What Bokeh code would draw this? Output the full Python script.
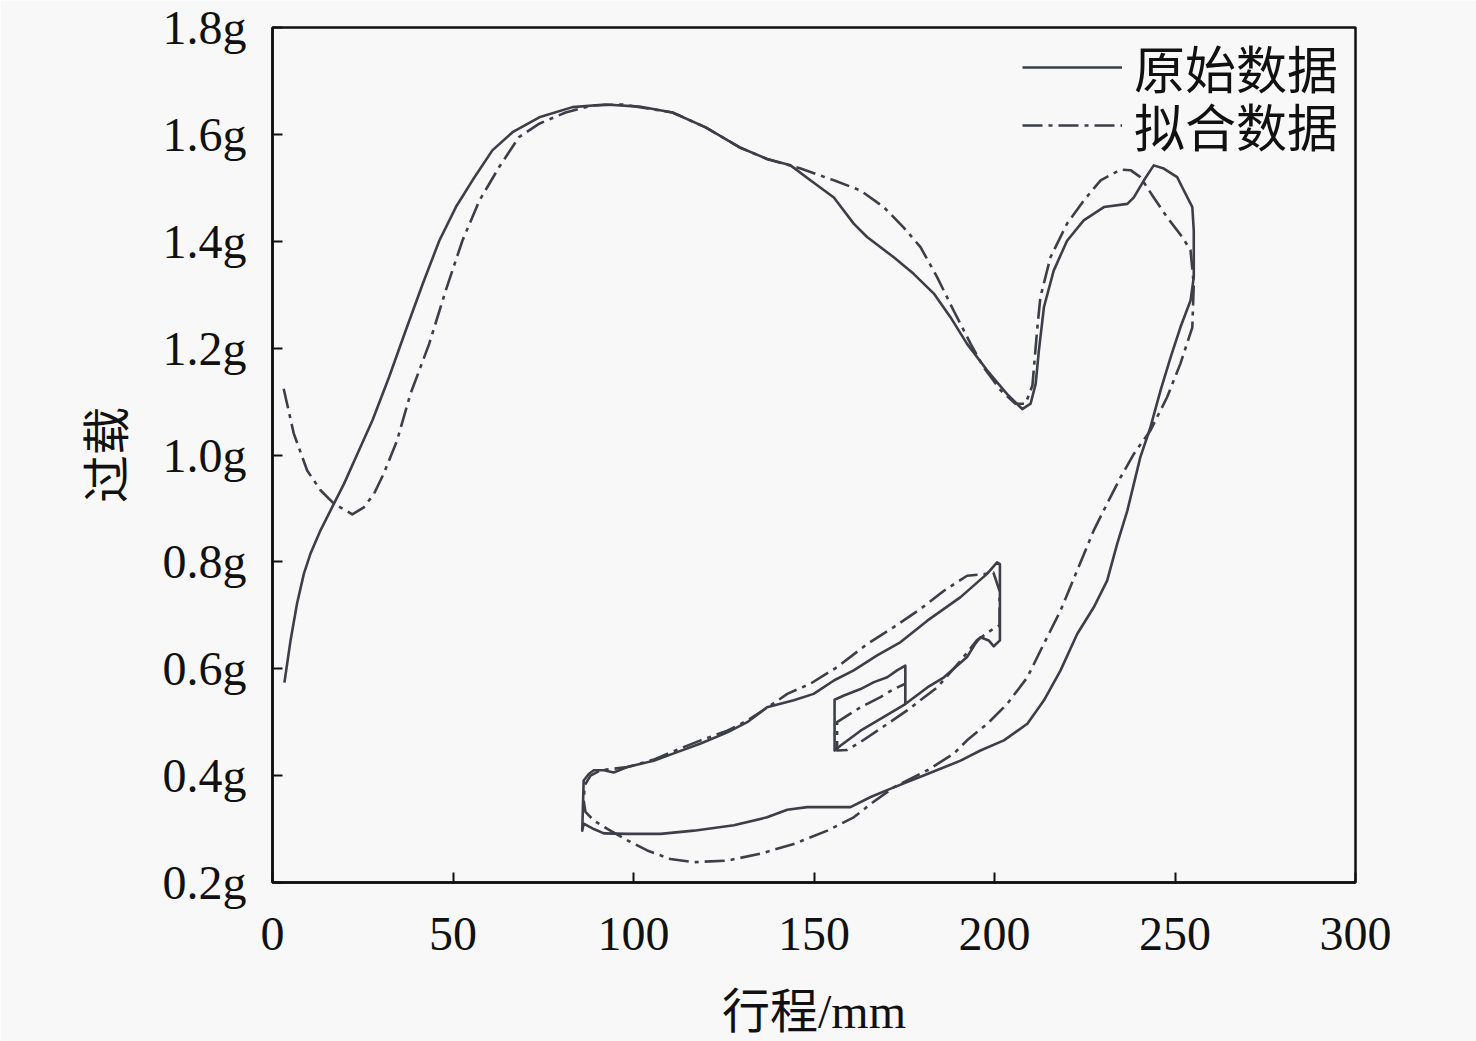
from bokeh.plotting import figure
from bokeh.models import Range1d, FixedTicker, Legend, LegendItem
from bokeh.embed import file_html
from bokeh.resources import INLINE

# ---- data (stroke in mm, overload in g) ----
orig_x = [3.3, 5.0, 6.8, 8.7, 10.5, 13.3, 16.5, 19.8, 23.5, 27.7, 32.3, 36.9,
          41.6, 46.2, 50.8, 55.4, 60.9, 66.5, 73.9, 83.1, 92.3, 101.6,
          110.8, 120.0, 129.3, 137.0, 143.5, 149.0, 155.5, 161.0, 164.7, 172.1,
          177.6, 183.2, 187.8, 192.4, 198.0, 203.5, 207.7, 210.0, 211.4, 212.3,
          213.7, 216.4, 220.1, 224.7, 230.3, 236.8, 238.6, 241.4, 244.1, 246.9,
          250.6, 252.0, 254.8, 255.2, 255.2, 254.3, 251.5, 248.8, 246.0, 243.2,
          240.4, 238.6, 236.8, 234.0, 231.2, 227.5, 222.9, 218.3, 213.7, 209.1,
          202.6, 196.1, 190.6, 181.4, 172.1, 165.7, 160.1, 153.7, 148.1, 142.6,
          137.0, 127.8, 116.7, 107.5, 98.3, 91.8, 89.0, 86.2, 85.8, 86.2,
          87.6, 89.0, 91.8, 94.5, 98.3, 105.6, 112.1, 118.6, 126.0, 131.5,
          137.0, 144.4, 149.9, 155.5, 161.0, 167.5, 174.0, 181.4, 190.6, 198.0,
          200.7, 201.5, 201.5, 199.8, 198.4, 196.1, 194.7, 192.4, 186.0, 181.4,
          175.3, 168.4, 162.9, 157.3, 155.7, 155.7, 158.3, 162.9, 166.6, 170.3,
          173.0, 175.3, 175.3]
orig_y = [0.574, 0.653, 0.722, 0.778, 0.815, 0.859, 0.902, 0.946, 1.002, 1.065, 1.146, 1.233,
          1.320, 1.401, 1.464, 1.514, 1.570, 1.604, 1.632, 1.651, 1.656, 1.652,
          1.641, 1.613, 1.576, 1.554, 1.542, 1.514, 1.482, 1.433, 1.408, 1.370,
          1.339, 1.302, 1.258, 1.208, 1.158, 1.114, 1.086, 1.096, 1.133, 1.196,
          1.277, 1.345, 1.401, 1.439, 1.464, 1.470, 1.482, 1.514, 1.542, 1.536,
          1.520, 1.501, 1.464, 1.420, 1.333, 1.289, 1.239, 1.183, 1.121, 1.052,
          0.996, 0.946, 0.896, 0.834, 0.765, 0.715, 0.665, 0.597, 0.541, 0.497,
          0.466, 0.447, 0.428, 0.403, 0.378, 0.360, 0.341, 0.341, 0.341, 0.336,
          0.322, 0.307, 0.297, 0.291, 0.291, 0.292, 0.300, 0.310, 0.297, 0.391,
          0.403, 0.410, 0.410, 0.406, 0.416, 0.428, 0.444, 0.460, 0.481, 0.500,
          0.528, 0.541, 0.553, 0.578, 0.597, 0.625, 0.650, 0.690, 0.734, 0.778,
          0.799, 0.796, 0.653, 0.642, 0.653, 0.659, 0.647, 0.622, 0.584, 0.565,
          0.534, 0.506, 0.484, 0.456, 0.447, 0.542, 0.550, 0.562, 0.575, 0.584,
          0.597, 0.606, 0.534]

fit_x = [3.1, 5.9, 9.6, 13.3, 17.0, 22.1, 25.3, 28.1, 30.8, 34.5,
         38.2, 43.4, 48.0, 52.6, 57.3, 62.8, 68.3, 73.9, 81.2, 88.6,
         97.0, 110.8, 120.0, 129.3, 137.0, 146.3, 155.5, 162.9, 169.3, 174.8,
         179.5, 184.1, 188.7, 193.4, 197.0, 201.7, 205.8, 208.6, 210.5, 211.8,
         212.7, 215.5, 220.1, 224.7, 229.4, 234.9, 237.7, 240.4, 244.1, 247.8,
         252.0, 254.3, 255.2, 254.8, 251.5, 247.8, 243.2, 238.6, 234.9, 231.2,
         227.5, 222.9, 218.3, 213.7, 209.1, 203.5, 198.0, 192.4, 188.7, 181.4,
         172.1, 165.7, 161.0, 153.7, 144.4, 135.2, 126.0, 116.7, 110.2, 103.8,
         98.3, 93.6, 89.0, 86.7, 86.2, 86.5, 88.1, 90.9, 98.3, 105.6,
         113.0, 118.6, 126.0, 131.5, 137.0, 142.6, 149.0, 156.4, 164.7, 172.1,
         179.5, 186.0, 192.4, 197.0, 199.7, 201.4, 201.4, 199.7, 195.1, 190.6,
         184.1, 175.8, 168.4, 162.9, 159.2, 156.4, 156.4, 162.9, 168.4, 172.1,
         175.3]
fit_y = [1.124, 1.040, 0.971, 0.934, 0.909, 0.889, 0.902, 0.927, 0.965, 1.027,
         1.114, 1.208, 1.308, 1.401, 1.476, 1.539, 1.595, 1.620, 1.641, 1.654,
         1.656, 1.641, 1.613, 1.576, 1.554, 1.536, 1.514, 1.495, 1.464, 1.426,
         1.389, 1.333, 1.270, 1.208, 1.164, 1.121, 1.096, 1.096, 1.130, 1.233,
         1.295, 1.370, 1.433, 1.476, 1.514, 1.534, 1.533, 1.520, 1.482, 1.445,
         1.408, 1.383, 1.320, 1.239, 1.171, 1.108, 1.046, 1.002, 0.958, 0.909,
         0.859, 0.784, 0.709, 0.647, 0.584, 0.534, 0.497, 0.466, 0.441, 0.410,
         0.378, 0.347, 0.322, 0.297, 0.272, 0.254, 0.241, 0.238, 0.244, 0.260,
         0.279, 0.297, 0.316, 0.332, 0.353, 0.382, 0.400, 0.410, 0.416, 0.430,
         0.451, 0.466, 0.484, 0.503, 0.527, 0.553, 0.572, 0.603, 0.646, 0.678,
         0.712, 0.746, 0.774, 0.777, 0.780, 0.746, 0.681, 0.675, 0.653, 0.615,
         0.565, 0.522, 0.488, 0.463, 0.448, 0.447, 0.500, 0.528, 0.547, 0.562,
         0.572]

x_ticks = [0, 50, 100, 150, 200, 250, 300]
y_ticks = [0.2, 0.4, 0.6, 0.8, 1.0, 1.2, 1.4, 1.6, 1.8]
y_tick_labels = ["0.2g", "0.4g", "0.6g", "0.8g", "1.0g", "1.2g", "1.4g", "1.6g", "1.8g"]
series_names = ["原始数据", "拟合数据"]

BG = "#f8f8f8"
LINE = "#3e3e48"
SERIF = "Liberation Serif"
MIXED = "'Liberation Serif', 'Noto Sans CJK SC'"

W, H = 1476, 1041
FL, FR, FT, FB = 272, 1355, 27, 882   # frame edges in page pixels
p = figure(width=W, height=H, output_backend="svg", toolbar_location=None,
           x_range=Range1d(0, 300), y_range=Range1d(0.2, 1.8),
           min_border_left=FL, min_border_right=W - FR,
           min_border_top=FT, min_border_bottom=H - FB,
           background_fill_color=BG, border_fill_color=BG)
p.grid.visible = False
p.outline_line_color = "#111111"
p.outline_line_width = 2.5

r1 = p.line(orig_x, orig_y, line_color=LINE, line_width=2.6, line_join="round")
r2 = p.line(fit_x, fit_y, line_color=LINE, line_width=2.6, line_dash="20 6 4 6",
            line_join="round")

for ax in (p.xaxis[0], p.yaxis[0]):
    ax.axis_line_color = "#111111"
    ax.axis_line_width = 2.5
    ax.major_tick_line_color = "#111111"
    ax.major_tick_line_width = 2
    ax.major_tick_in = 10
    ax.major_tick_out = 0
    ax.minor_tick_line_color = None
    ax.major_label_text_font = SERIF
    ax.major_label_text_font_size = "48px"
    ax.major_label_text_color = "#111111"
    ax.axis_label_text_font = MIXED
    ax.axis_label_text_font_size = "48px"
    ax.axis_label_text_font_style = "normal"
    ax.axis_label_text_color = "#111111"

p.xaxis.ticker = FixedTicker(ticks=x_ticks)
p.yaxis.ticker = FixedTicker(ticks=y_ticks)
p.yaxis.major_label_overrides = {t: s for t, s in zip(y_ticks, y_tick_labels)}
p.xaxis.major_label_standoff = 35
p.yaxis.major_label_standoff = 26
p.xaxis.axis_label = "行程/mm"
p.yaxis.axis_label = "过载"
p.xaxis.axis_label_standoff = 32
p.yaxis.axis_label_standoff = 26

legend_style = dict(margin=0, padding=0, spacing=0,
                    glyph_width=100, glyph_height=50, label_height=50,
                    label_standoff=12,
                    label_text_font="Noto Sans CJK SC", label_text_font_size="51px",
                    label_text_color="#111111",
                    background_fill_alpha=0, border_line_alpha=0)
legend1 = Legend(items=[LegendItem(label=series_names[0], renderers=[r1])],
                 location=(750, 778), **legend_style)
legend2 = Legend(items=[LegendItem(label=series_names[1], renderers=[r2])],
                 location=(750, 720), **legend_style)
p.add_layout(legend1)
p.add_layout(legend2)

html = file_html(p, INLINE)
html = html.replace("<body>", '<body style="background:%s">' % BG, 1)
open("out.html", "w").write(html)
